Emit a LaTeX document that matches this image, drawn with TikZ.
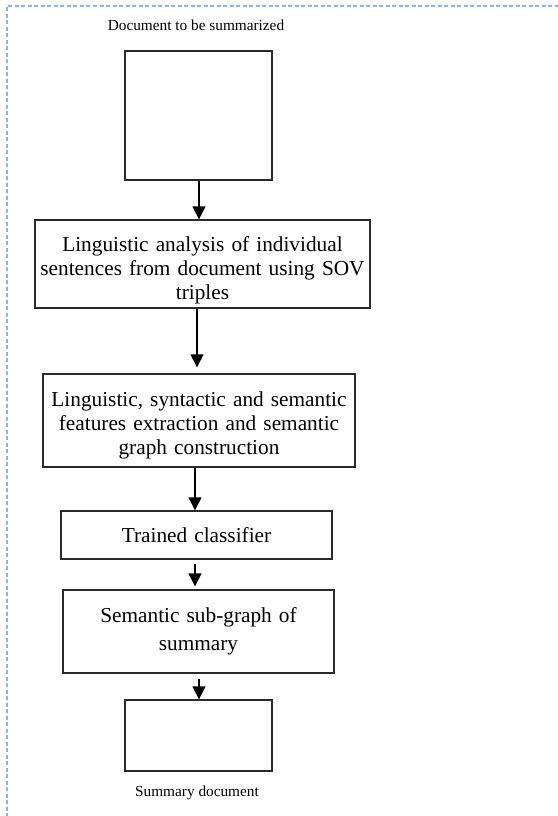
\documentclass[tikz,border=0pt]{standalone}
\usepackage{fontspec}
\setmainfont{Liberation Serif}
\usetikzlibrary{arrows.meta}
\definecolor{dashblue}{HTML}{8DB4E8}
\definecolor{boxline}{HTML}{2A2A2A}
\tikzset{
  flowbox/.style={draw=boxline, line width=1.4pt, rectangle, inner sep=0pt, align=center,
    font=\fontsize{21.3}{24}\selectfont},
  emptybox/.style={draw=boxline, line width=1.4pt, rectangle, inner sep=0pt},
  caption/.style={inner sep=0pt, font=\fontsize{15.3}{16}\selectfont},
  arr/.style={line width=1.5pt, draw=black, -{Triangle[length=13pt,width=13pt]}}
}
\begin{document}
\begin{tikzpicture}[x=1pt,y=-1pt]
\useasboundingbox (0,0) rectangle (557,816);
\draw[dashblue, line width=1.2pt, dash pattern=on 4pt off 2.5pt] (7,830) -- (7,6) -- (570,6);

\node[caption] (cap1) at (196,25) {Document to be summarized};
\node[emptybox, minimum width=147pt, minimum height=129pt] (b1) at (198.5,115.5) {};
\node[flowbox, minimum width=335pt, minimum height=88pt, text width=325pt] (b2) at (202.5,264)
  {\rule{0pt}{27pt}Linguistic analysis of individual\\ sentences from document using SOV\\ triples};
\node[flowbox, minimum width=312pt, minimum height=93pt, text width=305pt] (b3) at (199,420.5)
  {\rule{0pt}{25pt}Linguistic, syntactic and semantic\\ features extraction and semantic\\ graph construction};
\node[flowbox, minimum width=271pt, minimum height=48pt, text width=260pt] (b4) at (196.5,535)
  {Trained classifier};
\node[flowbox, minimum width=271pt, minimum height=83pt, text width=260pt] (b5) at (198.5,631.5)
  {Semantic sub-graph of\\[4pt] summary};
\node[emptybox, minimum width=147pt, minimum height=71pt] (b6) at (198.5,735.5) {};
\node[caption] (cap2) at (197,793) {Summary document};

\draw[arr] ([xshift=0.5pt]b1.south) -- ([xshift=0.5pt]b1.south |- b2.north);
\draw[arr] ([xshift=-5.5pt]b2.south) -- ([xshift=-5.5pt,yshift=6pt]b2.south |- b3.north);
\draw[arr] ([xshift=-4pt]b3.south) -- ([xshift=-4pt]b3.south |- b4.north);
\draw[arr] ([xshift=-1.5pt,yshift=-4pt]b4.south) -- ([xshift=-1.5pt,yshift=3pt]b4.south |- b5.north);
\draw[arr] ([xshift=0.5pt,yshift=-5pt]b5.south) -- ([xshift=0.5pt]b5.south |- b6.north);
\end{tikzpicture}
\end{document}
